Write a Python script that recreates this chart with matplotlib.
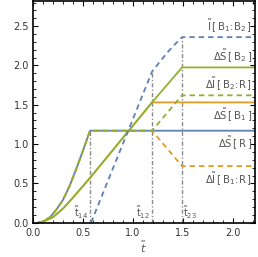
import numpy as np
import matplotlib.pyplot as plt
from matplotlib.ticker import MultipleLocator

BLUE = '#5E81B5'
ORANGE = '#E19C24'
GREEN = '#8FB131'
GRAY = '#8a8a8a'
TEXT = '#555555'

# shared rise (dS[R], dI[B1:R], dI[B2:R] until t14)
t_fast = [0.05, 0.10, 0.17, 0.23, 0.30, 0.37, 0.44, 0.50, 0.57]
y_fast = [0.0, 0.015, 0.07, 0.16, 0.29, 0.48, 0.71, 0.92, 1.17]

# dS[R]
t_sr = t_fast + [2.25]
y_sr = y_fast + [1.17]
# dI[B1:R]
t_ib1r = t_fast + [1.19, 1.49, 2.25]
y_ib1r = y_fast + [1.17, 0.72, 0.72]
# dI[B2:R]
t_ib2r = t_fast + [1.19, 1.49, 2.25]
y_ib2r = y_fast + [1.17, 1.62, 1.62]

# dS[B2] and dS[B1]
t_slow = [0.05, 0.10, 0.20, 0.30, 0.40, 0.57, 1.19]
y_slow = [0.0, 0.012, 0.07, 0.18, 0.32, 0.57, 1.53]
t_sb2 = t_slow + [1.49, 2.25]
y_sb2 = y_slow + [1.975, 1.975]
t_sb1 = t_slow + [2.25]
y_sb1 = y_slow + [1.53]

# I[B1:B2]
t_ib1b2 = [0.58, 1.19, 1.27, 1.34, 1.42, 1.49, 2.25]
y_ib1b2 = [0.0, 1.92, 2.05, 2.16, 2.27, 2.36, 2.36]

# event times and heights of the marker lines
t_events = [0.57, 1.19, 1.49]
y_events = [1.17, 1.92, 2.36]
event_names = ['14', '12', '23']

labels = [r'$\tilde{\mathrm{I}}\,[\,\mathrm{B}_1\!:\!\mathrm{B}_2\,]$',
          r'$\Delta\tilde{\mathrm{S}}\,[\,\mathrm{B}_2\,]$',
          r'$\Delta\tilde{\mathrm{I}}\,[\,\mathrm{B}_2\!:\!\mathrm{R}\,]$',
          r'$\Delta\tilde{\mathrm{S}}\,[\,\mathrm{B}_1\,]$',
          r'$\Delta\tilde{\mathrm{S}}\,[\,\mathrm{R}\,]$',
          r'$\Delta\tilde{\mathrm{I}}\,[\,\mathrm{B}_1\!:\!\mathrm{R}\,]$']
label_levels = [2.36, 1.975, 1.62, 1.53, 1.17, 0.72]
label_above = [True, True, True, False, False, False]

fig = plt.figure(figsize=(2.58, 2.57), dpi=100)
ax = fig.add_axes([0.128, 0.1335, 0.8585, 0.8627])

ax.vlines(t_events, 0, y_events, colors=GRAY, linestyles=(0, (3, 1.5, 1, 1.5)), lw=1.0)

lw = 1.3
dash = (0, (3, 2.2))
ax.plot(t_sr, y_sr, color=BLUE, lw=lw)
ax.plot(t_sb1, y_sb1, color=ORANGE, lw=lw)
ax.plot(t_sb2, y_sb2, color=GREEN, lw=lw)
ax.plot(t_ib1r, y_ib1r, color=ORANGE, lw=lw, linestyle=dash)
ax.plot(t_ib2r, y_ib2r, color=GREEN, lw=lw, linestyle=dash)
ax.plot(t_ib1b2, y_ib1b2, color=BLUE, lw=lw, linestyle=dash)

for t, name, yl in zip(t_events, event_names, y_events):
    if name == '23':
        ax.text(t + 0.01, 0.02, r'$\tilde{\mathrm{t}}_{%s}$' % name, color=TEXT,
                fontsize=7, ha='left', va='bottom')
    else:
        ax.text(t - 0.02, 0.02, r'$\tilde{\mathrm{t}}_{%s}$' % name, color=TEXT,
                fontsize=7, ha='right', va='bottom')

for lab, lev, above in zip(labels, label_levels, label_above):
    if above:
        ax.text(2.19, lev + 0.04, lab, color=TEXT, fontsize=7.3, ha='right', va='bottom')
    else:
        ax.text(2.19, lev - 0.05, lab, color=TEXT, fontsize=7.3, ha='right', va='top')

ax.set_xlim(0, 2.215)
ax.set_ylim(0, 2.82)
ax.xaxis.set_major_locator(MultipleLocator(0.5))
ax.xaxis.set_minor_locator(MultipleLocator(0.1))
ax.yaxis.set_major_locator(MultipleLocator(0.5))
ax.yaxis.set_minor_locator(MultipleLocator(0.1))
ax.xaxis.set_major_formatter(plt.FuncFormatter(lambda v, p: '%.1f' % v))
ax.yaxis.set_major_formatter(plt.FuncFormatter(lambda v, p: '%.1f' % v))
ax.tick_params(which='both', direction='in', top=True, right=True, labelsize=7,
               labelcolor='#333333')
ax.tick_params(axis='x', pad=3.5)
ax.tick_params(axis='y', pad=3)
ax.tick_params(which='major', length=3.5, width=0.8)
ax.tick_params(which='minor', length=2, width=0.6)
for s in ax.spines.values():
    s.set_linewidth(1.2)
ax.set_xlabel(r'$\tilde{t}$', fontsize=8, color=TEXT, labelpad=2)

fig.savefig('out.png', dpi=100)
